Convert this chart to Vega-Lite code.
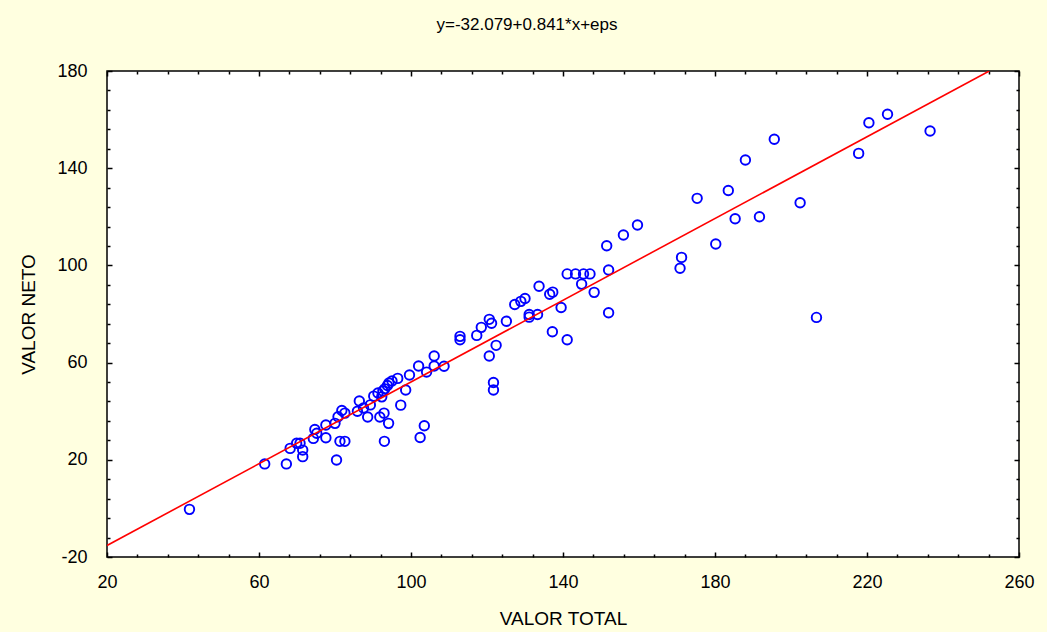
{
  "$schema": "https://vega.github.io/schema/vega-lite/v6.json",
  "width": 912,
  "height": 486,
  "autosize": {"type": "none"},
  "padding": {"left": 107, "top": 71, "right": 28, "bottom": 75},
  "background": "#FFFFE0",
  "title": {"text": "y=-32.079+0.841*x+eps", "frame": "bounds", "anchor": "middle", "fontSize": 17, "font": "Liberation Sans", "fontWeight": "normal", "offset": 28, "color": "#000000"},
  "datasets": {
    "pts": [
      {"total": 41.7, "neto": -0.4}, {"total": 61.5, "neto": 18.3}, {"total": 67.2, "neto": 18.3}, {"total": 68.2, "neto": 24.7},
      {"total": 69.9, "neto": 26.8}, {"total": 70.8, "neto": 26.8}, {"total": 71.5, "neto": 24.0}, {"total": 71.5, "neto": 21.3},
      {"total": 74.3, "neto": 28.8}, {"total": 74.7, "neto": 32.5}, {"total": 75.2, "neto": 30.9}, {"total": 77.6, "neto": 29.1},
      {"total": 77.6, "neto": 34.3}, {"total": 80.0, "neto": 35.0}, {"total": 80.4, "neto": 19.9}, {"total": 80.8, "neto": 37.7},
      {"total": 81.8, "neto": 40.3}, {"total": 82.6, "neto": 39.2}, {"total": 81.3, "neto": 27.6}, {"total": 82.6, "neto": 27.6},
      {"total": 85.9, "neto": 40.0}, {"total": 86.4, "neto": 44.2}, {"total": 87.5, "neto": 41.3}, {"total": 88.6, "neto": 37.6},
      {"total": 89.3, "neto": 42.6}, {"total": 90.2, "neto": 46.2}, {"total": 91.3, "neto": 47.5}, {"total": 91.8, "neto": 37.6},
      {"total": 92.9, "neto": 39.2}, {"total": 94.1, "neto": 35.0}, {"total": 93.0, "neto": 27.6}, {"total": 92.3, "neto": 45.9},
      {"total": 93.1, "neto": 49.2}, {"total": 93.8, "neto": 50.6}, {"total": 94.2, "neto": 51.6}, {"total": 92.6, "neto": 48.3},
      {"total": 95.0, "neto": 52.4}, {"total": 96.5, "neto": 53.5}, {"total": 97.3, "neto": 42.5}, {"total": 98.6, "neto": 48.7},
      {"total": 99.6, "neto": 54.9}, {"total": 102.0, "neto": 58.6}, {"total": 104.1, "neto": 56.1}, {"total": 103.5, "neto": 34.0},
      {"total": 102.4, "neto": 29.2}, {"total": 106.1, "neto": 62.7}, {"total": 106.1, "neto": 58.6}, {"total": 108.7, "neto": 58.5},
      {"total": 112.9, "neto": 70.8}, {"total": 112.9, "neto": 69.4}, {"total": 117.3, "neto": 71.2}, {"total": 118.5, "neto": 74.5},
      {"total": 120.6, "neto": 77.8}, {"total": 121.2, "neto": 76.2}, {"total": 120.6, "neto": 62.7}, {"total": 122.4, "neto": 67.1},
      {"total": 121.7, "neto": 51.8}, {"total": 121.7, "neto": 48.7}, {"total": 125.1, "neto": 77.0}, {"total": 127.3, "neto": 83.9},
      {"total": 128.9, "neto": 85.2}, {"total": 130.0, "neto": 86.4}, {"total": 131.1, "neto": 79.8}, {"total": 131.1, "neto": 78.7},
      {"total": 133.3, "neto": 79.8}, {"total": 133.7, "neto": 91.4}, {"total": 136.5, "neto": 88.1}, {"total": 137.3, "neto": 89.0},
      {"total": 137.2, "neto": 72.7}, {"total": 139.5, "neto": 82.7}, {"total": 141.1, "neto": 69.4}, {"total": 141.1, "neto": 96.5},
      {"total": 143.3, "neto": 96.5}, {"total": 145.4, "neto": 96.5}, {"total": 147.1, "neto": 96.5}, {"total": 144.9, "neto": 92.3},
      {"total": 148.2, "neto": 88.9}, {"total": 152.0, "neto": 98.1}, {"total": 152.0, "neto": 80.5}, {"total": 151.5, "neto": 108.1},
      {"total": 155.9, "neto": 112.5}, {"total": 159.6, "neto": 116.6}, {"total": 175.3, "neto": 127.6}, {"total": 180.2, "neto": 108.8},
      {"total": 171.2, "neto": 103.3}, {"total": 170.8, "neto": 98.8}, {"total": 183.5, "neto": 130.8}, {"total": 185.3, "neto": 119.2},
      {"total": 188.0, "neto": 143.4}, {"total": 191.7, "neto": 120.0}, {"total": 195.6, "neto": 151.9}, {"total": 202.4, "neto": 125.8},
      {"total": 206.7, "neto": 78.6}, {"total": 217.8, "neto": 146.1}, {"total": 220.5, "neto": 158.7}, {"total": 225.4, "neto": 162.2},
      {"total": 236.6, "neto": 155.3}
    ],
    "fit": [{"total": 20, "neto": -15.259}, {"total": 252.175, "neto": 180}]
  },
  "config": {
    "view": {"fill": "#FFFFFF", "stroke": "#000000", "strokeWidth": 1.5},
    "axis": {"grid": false, "domain": false, "tickColor": "#000000", "tickWidth": 1.5, "labelFont": "Liberation Sans", "labelColor": "#000000", "labelFontSize": 18, "titleFont": "Liberation Sans", "titleFontWeight": "normal", "titleColor": "#000000", "titleFontSize": 19}
  },
  "resolve": {"axis": {"x": "independent", "y": "independent"}},
  "layer": [
    {
      "data": {"name": "pts"},
      "mark": {"type": "point", "shape": "circle", "filled": false, "stroke": "#0000FF", "strokeWidth": 1.9, "size": 90, "opacity": 1},
      "encoding": {
        "x": {"field": "total", "type": "quantitative", "scale": {"domain": [20, 260], "nice": false, "zero": false},
              "axis": {"orient": "bottom", "values": [20, 60, 100, 140, 180, 220, 260], "labelExpr": "'' + datum.value", "tickSize": -5, "labelPadding": 21, "labelFlush": false, "labelOverlap": false, "title": "VALOR TOTAL", "titlePadding": 18}},
        "y": {"field": "neto", "type": "quantitative", "scale": {"domain": [-20, 180], "nice": false, "zero": false},
              "axis": {"orient": "left", "values": [-20, 20, 60, 100, 140, 180], "labelExpr": "'' + datum.value", "tickSize": -5, "labelPadding": 25, "labelFlush": false, "labelOverlap": false, "title": "VALOR NETO", "titlePadding": 18}}
      }
    },
    {
      "data": {"name": "pts"},
      "mark": {"type": "point", "opacity": 0},
      "encoding": {
        "x": {"field": "total", "type": "quantitative", "scale": {"domain": [20, 260], "nice": false, "zero": false},
              "axis": {"orient": "bottom", "values": [28, 36, 44, 52, 68, 76, 84, 92, 108, 116, 124, 132, 148, 156, 164, 172, 188, 196, 204, 212, 228, 236, 244, 252], "tickSize": -3, "labels": false, "title": null}},
        "y": {"field": "neto", "type": "quantitative", "scale": {"domain": [-20, 180], "nice": false, "zero": false},
              "axis": {"orient": "left", "values": [-12, -4, 4, 12, 28, 36, 44, 52, 68, 76, 84, 92, 108, 116, 124, 132, 148, 156, 164, 172], "tickSize": -3, "labels": false, "title": null}}
      }
    },
    {
      "data": {"name": "pts"},
      "mark": {"type": "point", "opacity": 0},
      "encoding": {
        "x": {"field": "total", "type": "quantitative", "scale": {"domain": [20, 260], "nice": false, "zero": false},
              "axis": {"orient": "top", "values": [20, 60, 100, 140, 180, 220, 260], "tickSize": -5, "labels": false, "title": null}},
        "y": {"field": "neto", "type": "quantitative", "scale": {"domain": [-20, 180], "nice": false, "zero": false},
              "axis": {"orient": "right", "values": [-20, 20, 60, 100, 140, 180], "tickSize": -5, "labels": false, "title": null}}
      }
    },
    {
      "data": {"name": "fit"},
      "mark": {"type": "line", "color": "#FF0000", "strokeWidth": 1.6, "clip": true},
      "encoding": {
        "x": {"field": "total", "type": "quantitative", "scale": {"domain": [20, 260], "nice": false, "zero": false},
              "axis": {"orient": "top", "values": [28, 36, 44, 52, 68, 76, 84, 92, 108, 116, 124, 132, 148, 156, 164, 172, 188, 196, 204, 212, 228, 236, 244, 252], "tickSize": -3, "labels": false, "title": null}},
        "y": {"field": "neto", "type": "quantitative", "scale": {"domain": [-20, 180], "nice": false, "zero": false},
              "axis": {"orient": "right", "values": [-12, -4, 4, 12, 28, 36, 44, 52, 68, 76, 84, 92, 108, 116, 124, 132, 148, 156, 164, 172], "tickSize": -3, "labels": false, "title": null}}
      }
    }
  ]
}
